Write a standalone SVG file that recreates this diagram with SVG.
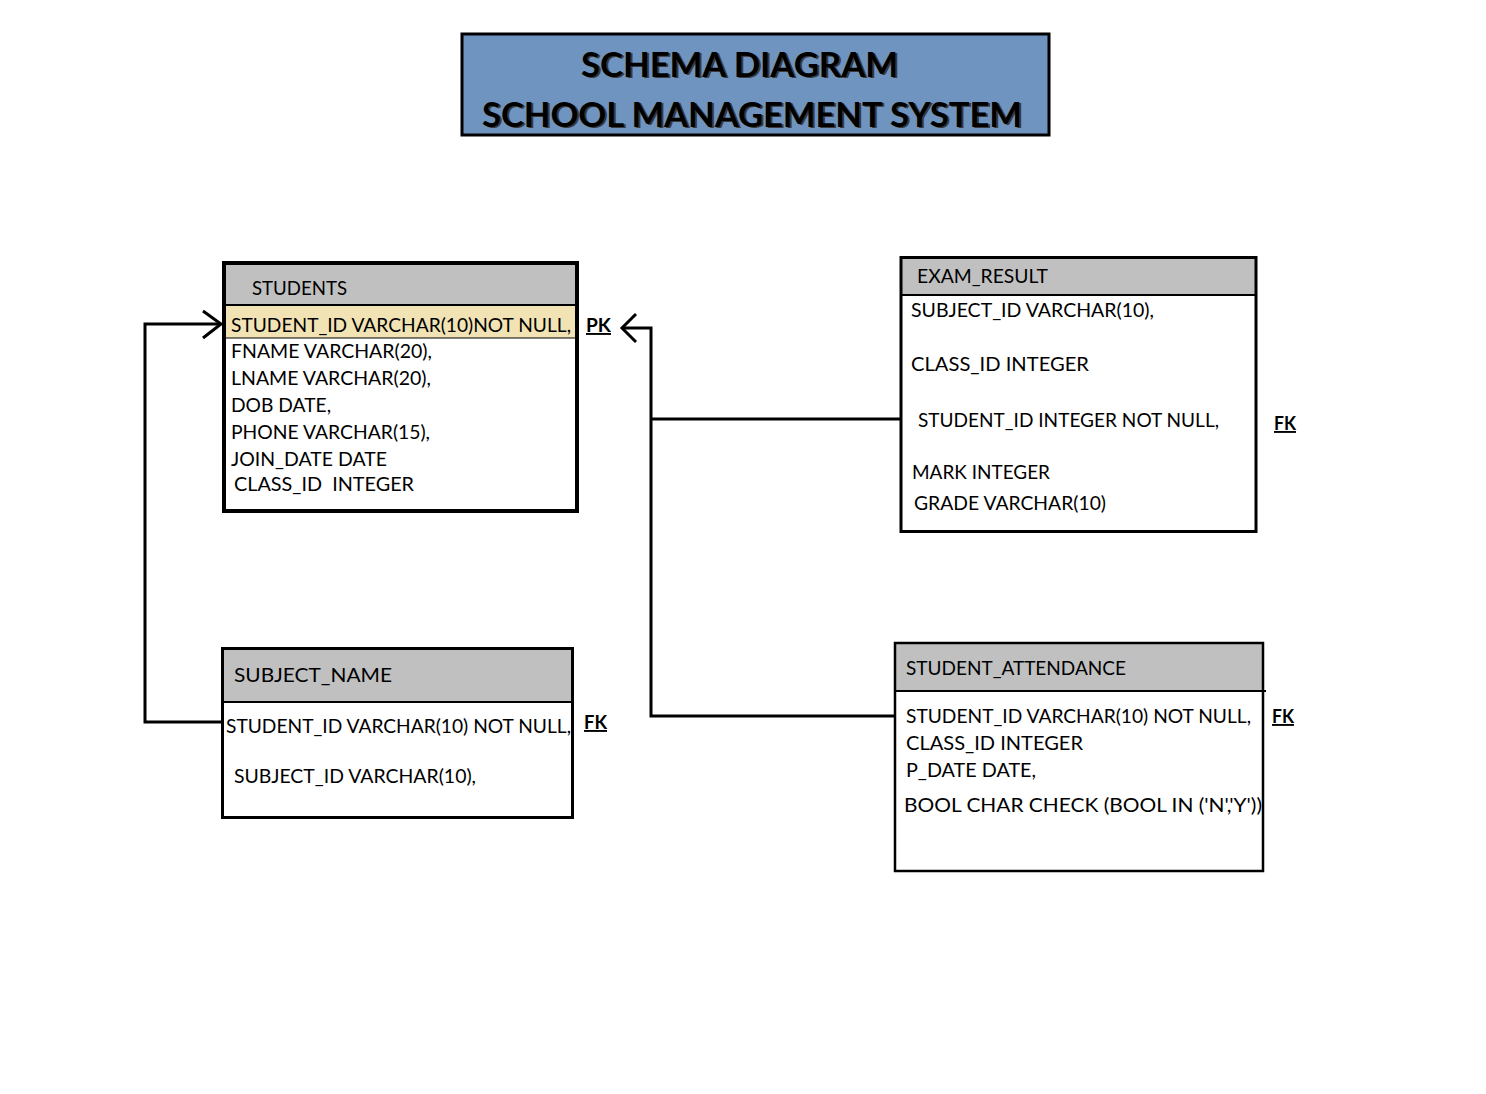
<svg xmlns="http://www.w3.org/2000/svg" width="1486" height="1094" viewBox="0 0 1486 1094">
<style>
.t{font-family:Lato,"Open Sans","Liberation Sans",sans-serif;font-size:19px;fill:#000}
.ttl{font-family:Lato,"Open Sans","Liberation Sans",sans-serif;font-size:34px;font-weight:bold;fill:#000}
.k{font-family:Lato,"Liberation Sans",sans-serif;font-size:19px;font-weight:bold;fill:#000;text-decoration:underline}
.hdr{fill:#c0c0c0}
.box{fill:none;stroke:#000}
.ln{fill:none;stroke:#000;stroke-width:3}
</style>
<rect width="1486" height="1094" fill="#fff"/>
<g id="title">
<rect x="462" y="34" width="587" height="101" fill="#7094c0" stroke="#000" stroke-width="3"/>
<text class="ttl" x="583" y="78" fill="#333" textLength="317" lengthAdjust="spacingAndGlyphs" style="fill:#3a3a3a">SCHEMA DIAGRAM</text>
<text class="ttl" x="581" y="77" textLength="317" lengthAdjust="spacingAndGlyphs">SCHEMA DIAGRAM</text>
<text class="ttl" x="484" y="128" textLength="540" lengthAdjust="spacingAndGlyphs" style="fill:#3a3a3a">SCHOOL MANAGEMENT SYSTEM</text>
<text class="ttl" x="482" y="127" textLength="540" lengthAdjust="spacingAndGlyphs">SCHOOL MANAGEMENT SYSTEM</text>
</g>
<g id="connectors">
<polyline class="ln" points="222,722 145,722 145,324 220,324"/>
<polyline class="ln" points="203,311 221,324 203,338"/>
<polyline class="ln" points="623,328 651,328 651,716 894,716"/>
<line class="ln" x1="651" y1="419" x2="900" y2="419"/>
<polyline class="ln" points="636,314 622,328 636,342"/>
</g>
<g id="students">
<rect class="hdr" x="224" y="264" width="352" height="41"/>
<rect x="224" y="305" width="352" height="33" fill="#f2e3b5"/>
<line x1="224" y1="305" x2="576" y2="305" stroke="#000" stroke-width="2"/>
<line x1="224" y1="338" x2="576" y2="338" stroke="#000" stroke-width="1"/>
<rect class="box" x="224" y="263" width="353" height="248" stroke-width="4"/>
<text class="t" x="252" y="295" textLength="95" lengthAdjust="spacingAndGlyphs">STUDENTS</text>
<text class="t" x="231" y="332" textLength="340" lengthAdjust="spacingAndGlyphs">STUDENT_ID VARCHAR(10)NOT NULL,</text>
<text class="t" x="231" y="358" textLength="201" lengthAdjust="spacingAndGlyphs">FNAME VARCHAR(20),</text>
<text class="t" x="231" y="385" textLength="200" lengthAdjust="spacingAndGlyphs">LNAME VARCHAR(20),</text>
<text class="t" x="231" y="412" textLength="100" lengthAdjust="spacingAndGlyphs">DOB DATE,</text>
<text class="t" x="231" y="439" textLength="199" lengthAdjust="spacingAndGlyphs">PHONE VARCHAR(15),</text>
<text class="t" x="231" y="466" textLength="156" lengthAdjust="spacingAndGlyphs">JOIN_DATE DATE</text>
<text class="t" x="234" y="491" textLength="180" lengthAdjust="spacingAndGlyphs" xml:space="preserve">CLASS_ID  INTEGER</text>
<text class="k" x="586" y="332" textLength="25" lengthAdjust="spacingAndGlyphs">PK</text>
</g>
<g id="exam_result">
<rect class="hdr" x="901" y="258" width="355" height="37"/>
<line x1="901" y1="295" x2="1256" y2="295" stroke="#000" stroke-width="2"/>
<rect class="box" x="901" y="257.5" width="355" height="274" stroke-width="3"/>
<text class="t" x="917" y="283" textLength="131" lengthAdjust="spacingAndGlyphs">EXAM_RESULT</text>
<text class="t" x="911" y="317" textLength="243" lengthAdjust="spacingAndGlyphs">SUBJECT_ID VARCHAR(10),</text>
<text class="t" x="911" y="371" textLength="178" lengthAdjust="spacingAndGlyphs">CLASS_ID INTEGER</text>
<text class="t" x="918" y="427" textLength="301" lengthAdjust="spacingAndGlyphs">STUDENT_ID INTEGER NOT NULL,</text>
<text class="t" x="912" y="479" textLength="138" lengthAdjust="spacingAndGlyphs">MARK INTEGER</text>
<text class="t" x="914" y="510" textLength="192" lengthAdjust="spacingAndGlyphs">GRADE VARCHAR(10)</text>
<text class="k" x="1274" y="430" textLength="22" lengthAdjust="spacingAndGlyphs">FK</text>
</g>
<g id="subject_name">
<rect class="hdr" x="222" y="648" width="350" height="54"/>
<line x1="222" y1="702" x2="572" y2="702" stroke="#000" stroke-width="2"/>
<rect class="box" x="222.5" y="648.5" width="350" height="169" stroke-width="3"/>
<text class="t" x="234" y="682" textLength="158" lengthAdjust="spacingAndGlyphs">SUBJECT_NAME</text>
<text class="t" x="226" y="733" textLength="345" lengthAdjust="spacingAndGlyphs">STUDENT_ID VARCHAR(10) NOT NULL,</text>
<text class="t" x="234" y="783" textLength="242" lengthAdjust="spacingAndGlyphs">SUBJECT_ID VARCHAR(10),</text>
<text class="k" x="584" y="729" textLength="23" lengthAdjust="spacingAndGlyphs">FK</text>
</g>
<g id="student_attendance">
<rect class="hdr" x="895" y="643" width="368" height="48"/>
<line x1="895" y1="691" x2="1266" y2="691" stroke="#000" stroke-width="2"/>
<rect class="box" x="895" y="643" width="368" height="228" stroke-width="2.5"/>
<text class="t" x="906" y="675" textLength="220" lengthAdjust="spacingAndGlyphs">STUDENT_ATTENDANCE</text>
<text class="t" x="906" y="723" textLength="345" lengthAdjust="spacingAndGlyphs">STUDENT_ID VARCHAR(10) NOT NULL,</text>
<text class="t" x="906" y="750" textLength="177" lengthAdjust="spacingAndGlyphs">CLASS_ID INTEGER</text>
<text class="t" x="906" y="777" textLength="130" lengthAdjust="spacingAndGlyphs">P_DATE DATE,</text>
<text class="t" x="904" y="812" textLength="358" lengthAdjust="spacingAndGlyphs">BOOL CHAR CHECK (BOOL IN ('N','Y'))</text>
<text class="k" x="1272" y="723" textLength="22" lengthAdjust="spacingAndGlyphs">FK</text>
</g>
</svg>
